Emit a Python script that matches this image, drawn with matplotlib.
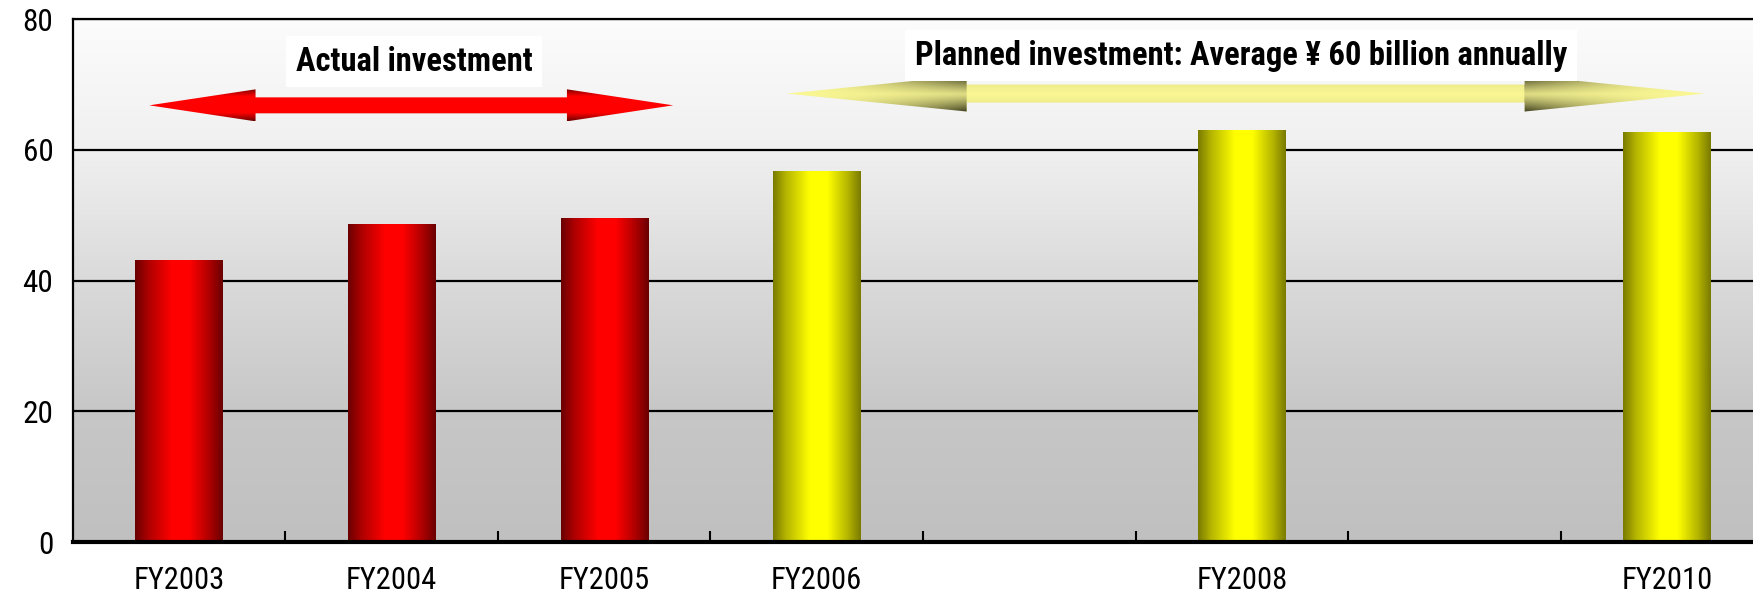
import matplotlib.pyplot as plt
import numpy as np
from matplotlib.colors import to_rgb
from matplotlib.patches import Polygon

# Datos de inversión (miles de millones de yenes)
categorias = ['FY2003', 'FY2004', 'FY2005', 'FY2006', 'FY2007', 'FY2008', 'FY2009', 'FY2010']
etiquetas = ['FY2003', 'FY2004', 'FY2005', 'FY2006', '', 'FY2008', '', 'FY2010']
inversion = [43.1, 48.7, 49.6, 56.8, np.nan, 63.1, np.nan, 62.7]
tipo = ['real', 'real', 'real', 'plan', 'plan', 'plan', 'plan', 'plan']
texto_real = 'Actual investment'
texto_plan = 'Planned investment: Average ¥ 60 billion annually'

fuente = ['Roboto Condensed', 'Liberation Sans', 'DejaVu Sans']


def degradado_cilindro(oscuro, claro, n=256):
    # Oscuro en los bordes y brillante un poco a la izquierda del centro
    t = np.linspace(0, 1, n)
    f = np.interp(t, [0, 0.15, 0.42, 0.62, 0.85, 1], [0, 0.45, 1, 1, 0.45, 0])
    a, b = np.array(to_rgb(oscuro)), np.array(to_rgb(claro))
    return (a + f[:, None] * (b - a))[None, :, :]


def flecha_doble(ax, x0, x1, y, largo, alto, medio, colorear):
    verts = [(x0, y), (x0 + largo, y + alto), (x0 + largo, y + medio),
             (x1 - largo, y + medio), (x1 - largo, y + alto), (x1, y),
             (x1 - largo, y - alto), (x1 - largo, y - medio),
             (x0 + largo, y - medio), (x0 + largo, y - alto)]
    poli = Polygon(verts, closed=True, facecolor='none', edgecolor='none', zorder=4)
    ax.add_patch(poli)
    xs = np.linspace(x0, x1, 600)
    ys = np.linspace(y - alto, y + alto, 80)
    X, Y = np.meshgrid(xs, ys)
    # tx: 0 en la punta, 1 en la base de la cabeza; ty: 0 en el eje, 1 en el borde
    tx = np.clip(np.minimum(X - x0, x1 - X) / largo, 0, 1)
    ty = np.abs(Y - y) / alto
    tb = np.clip((np.abs(Y - y) - medio) / (alto - medio), 0, 1)
    img = colorear(tx, ty, tb)
    im = ax.imshow(img, extent=(x0, x1, y - alto, y + alto), origin='lower',
                   aspect='auto', interpolation='bilinear', zorder=4)
    im.set_clip_path(poli)


def color_rojo(tx, ty, tb):
    rojo = np.array([1.0, 0.0, 0.0])
    oscuro = np.array([0.42, 0.0, 0.0])
    k = (tb * (0.4 + 0.6 * tx))[..., None]
    return rojo * (1 - k) + oscuro * k


def color_amarillo(tx, ty, tb):
    palido = np.array([0.98, 0.97, 0.58])
    oliva = np.array([0.24, 0.24, 0.12])
    k = tx ** 1.6 * (0.15 + 0.85 * ty ** 1.2)
    k = np.where(tx >= 1, 0.12 * ty, k)[..., None]
    return palido * (1 - k) + oliva * k


def dibujar_grafico():
    fig = plt.figure(figsize=(17.53, 5.95), dpi=100)
    ax = fig.add_axes([0.0415, 0.089, 0.970, 0.879])

    x = np.arange(len(categorias))
    ax.set_xlim(-0.5, len(categorias) - 0.5)
    ax.set_ylim(0, 80)

    # Fondo degradado de gris (abajo) a casi blanco (arriba)
    yy = np.linspace(0, 80, 256)
    gris = np.interp(yy, [0, 20, 40, 60, 80], [192, 199, 218, 240, 252]) / 255
    fondo = gris[:, None, None] * np.ones((1, 1, 3))
    ax.imshow(fondo, extent=(-0.5, len(categorias) - 0.5, 0, 80), origin='lower',
              aspect='auto', interpolation='bilinear', zorder=0.1)

    # Barras con efecto cilíndrico
    colores = {'real': ('#6a0000', '#ff0000'), 'plan': ('#7a7a00', '#ffff00')}
    barras = ax.bar(x, inversion, width=0.41, zorder=2)
    for barra, t, v in zip(barras, tipo, inversion):
        barra.set_facecolor('none')
        barra.set_edgecolor('none')
        if np.isnan(v):
            continue
        x0 = barra.get_x()
        im = ax.imshow(degradado_cilindro(*colores[t]),
                       extent=(x0, x0 + barra.get_width(), 0, v),
                       aspect='auto', interpolation='bilinear', zorder=2)
        im.set_clip_path(barra)

    # Flechas de periodo
    flecha_doble(ax, -0.14, 2.325, 66.8, 0.5, 2.45, 1.22, color_rojo)
    flecha_doble(ax, 2.857, 7.18, 68.6, 0.85, 2.75, 1.38, color_amarillo)

    caja = dict(facecolor='white', edgecolor='none', pad=7)
    ax.text(1.106, 73.5, texto_real, ha='center', va='center', fontsize=23.5,
            fontweight='bold', family=fuente, bbox=caja, zorder=5)
    ax.text(4.998, 74.4, texto_plan, ha='center', va='center', fontsize=23.5,
            fontweight='bold', family=fuente, bbox=caja, zorder=5)

    # Rejilla y ejes
    ax.set_yticks([0, 20, 40, 60, 80])
    ax.yaxis.grid(True, color='black', linewidth=1.6)
    ax.set_axisbelow(True)
    ax.tick_params(axis='y', length=0, pad=14, labelsize=22.5)
    ax.set_xticks(x)
    ax.set_xticklabels(etiquetas)
    ax.set_xticks(np.arange(0.5, len(categorias) - 1, 1), minor=True)
    ax.tick_params(axis='x', which='major', length=0, pad=17, labelsize=22)
    ax.tick_params(axis='x', which='minor', direction='in', length=8, width=1.5)
    for lab in ax.get_xticklabels() + ax.get_yticklabels():
        lab.set_family(fuente)

    for lado in ['left', 'top', 'right']:
        ax.spines[lado].set_linewidth(1.6)
    ax.spines['bottom'].set_linewidth(3)

    fig.savefig('out.png', dpi=100)


if __name__ == "__main__":
    dibujar_grafico()
